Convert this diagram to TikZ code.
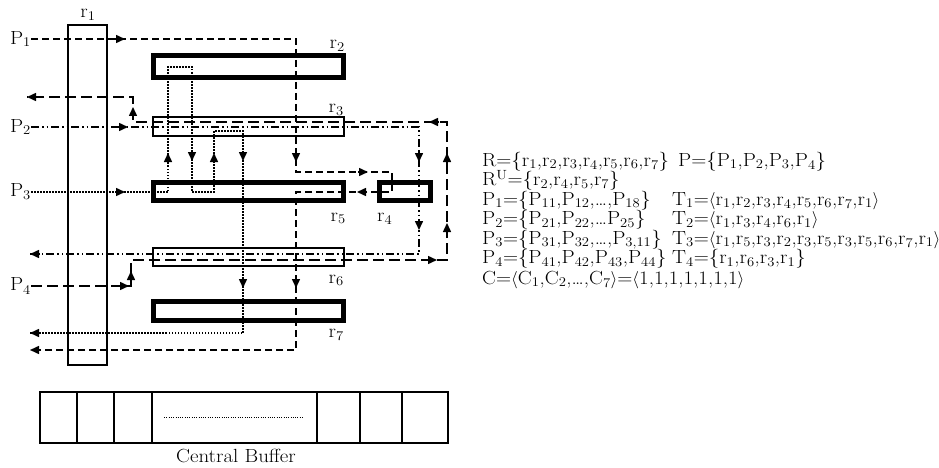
\documentclass[tikz,border=0pt]{standalone}
\usepackage{fontspec}
\setmainfont{Latin Modern Roman}[FakeStretch=1.1]
\usepackage{tikz}
\usetikzlibrary{arrows.meta}
\newcommand{\sbs}[1]{\textsubscript{#1}}
\newcommand{\lcol}[1]{\makebox[190pt][l]{#1}}

\begin{document}
\begin{tikzpicture}[x=1pt, y=-1pt,
  txt/.style={font=\fontsize{19}{20}\selectfont, inner sep=0pt},
  thickbox/.style={draw, line width=5pt, fill=white, inner sep=0pt},
  thinbox/.style={draw, line width=1.5pt, fill=white, inner sep=0pt},
  routeA/.style={line width=1.5pt, dash pattern=on 7pt off 4pt},
  routeB/.style={line width=1.5pt, dash pattern=on 8pt off 3pt on 1.5pt off 3pt on 1.5pt off 3pt},
  routeC/.style={line width=1.5pt, dash pattern=on 1.5pt off 1.5pt},
  routeD/.style={line width=1.5pt, dash pattern=on 11pt off 5pt},
  hd/.style={solid, line width=1.5pt, -{Triangle[length=9pt,width=8pt]}}]
  \useasboundingbox (0,0) rectangle (939,468);

  % resources
  \node[thinbox, minimum width=39pt, minimum height=340pt] (r1) at (87.5,195) {};
  \node[thickbox, minimum width=190pt, minimum height=22pt] (r2) at (248.5,66.5) {};
  \node[thinbox, minimum width=191pt, minimum height=19pt] (r3) at (248.5,126.5) {};
  \node[thickbox, minimum width=51pt, minimum height=18pt] (r4) at (405,191.5) {};
  \node[thickbox, minimum width=190pt, minimum height=18pt] (r5) at (248.5,191.5) {};
  \node[thinbox, minimum width=191pt, minimum height=18pt] (r6) at (248.5,257) {};
  \node[thickbox, minimum width=190pt, minimum height=19pt] (r7) at (248.5,311) {};

  \node[txt, anchor=base] (lr1) at (88,18) {r\sbs1};
  \node[txt, anchor=base east] (lr2) at (345,49) {r\sbs2};
  \node[txt, anchor=base east] (lr3) at (344,113) {r\sbs3};
  \node[txt, anchor=base west] (lr4) at (377,221) {r\sbs4};
  \node[txt, anchor=base east] (lr5) at (346,221) {r\sbs5};
  \node[txt, anchor=base east] (lr6) at (344,283) {r\sbs6};
  \node[txt, anchor=base east] (lr7) at (344,337) {r\sbs7};

  % products
  \node[txt, anchor=east] (P1) at (31,39) {P\sbs1};
  \node[txt, anchor=east] (P2) at (31,127) {P\sbs2};
  \node[txt, anchor=east] (P3) at (31,192) {P\sbs3};
  \node[txt, anchor=east] (P4) at (31,286) {P\sbs4};

  % routes
  \draw[routeA] (P1.east) -| (296,172) -- (392,172) -- (392,192) -- (296,192) -- (296,350) -- (30,350);
  \draw[routeB] (P2.east) -| (419,254) -- (30,254);
  \draw[routeC] (P3.east) -| (168,67) -| (192,192) -| (214,131) -| (243,333) -- (30,333);
  \draw[routeD] (P4.east) -| (131,260) -| (447,122) -| (133,97) -- (27,97);

  % arrow heads (0 right, 90 down, 180 left, 270 up)
  \foreach \x/\y/\a in {125/39/0, 296/162/90, 368/172/0, 357/192/180, 296/288/90, 30/350/180,
      128/127/0, 419/162/90, 419/230/90, 30/254/180,
      125/192/0, 168/153/270, 192/161/90, 214/153/270, 243/161/90, 243/288/90, 30/333/180,
      129/286/0, 131/271/270, 437/260/0, 447/223/270, 447/153/270, 429/122/180, 133/107/270, 27/97/180}
    \draw[hd] (\x,\y) ++(\a+180:10) -- ++(\a:10);

  % central buffer
  \node[thinbox, minimum width=408pt, minimum height=51pt] (buf) at (244,417.5) {};
  \foreach \x in {77,114,152,317,360,402} \draw[line width=1.5pt] (\x,392) -- (\x,443);
  \draw[line width=1pt, dash pattern=on 1pt off 1.3pt] (164,417) -- (303,417);
  \node[txt, anchor=base] (buflbl) at (236,462) {Central Buffer};

  % sets
  \node[txt, anchor=base west] (setR) at (482,166) {\lcol{R=\{r\sbs1,r\sbs2,r\sbs3,r\sbs4,r\sbs5,r\sbs6,r\sbs7\}}\hspace{6pt}P=\{P\sbs1,P\sbs2,P\sbs3,P\sbs4\}};
  \node[txt, anchor=base west] (setRU) at (482,185.5) {R\textsuperscript{U}=\{r\sbs2,r\sbs4,r\sbs5,r\sbs7\}};
  \node[txt, anchor=base west] (setT1) at (482,205) {\lcol{P\sbs1=\{P\sbs{11},P\sbs{12},\ldots,P\sbs{18}\}}T\sbs1=$\langle$r\sbs1,r\sbs2,r\sbs3,r\sbs4,r\sbs5,r\sbs6,r\sbs7,r\sbs1$\rangle$};
  \node[txt, anchor=base west] (setT2) at (482,224.5) {\lcol{P\sbs2=\{P\sbs{21},P\sbs{22},\ldots P\sbs{25}\}}T\sbs2=$\langle$r\sbs1,r\sbs3,r\sbs4,r\sbs6,r\sbs1$\rangle$};
  \node[txt, anchor=base west] (setT3) at (482,244) {\lcol{P\sbs3=\{P\sbs{31},P\sbs{32},\ldots,P\sbs{3,11}\}}T\sbs3=$\langle$r\sbs1,r\sbs5,r\sbs3,r\sbs2,r\sbs3,r\sbs5,r\sbs3,r\sbs5,r\sbs6,r\sbs7,r\sbs1$\rangle$};
  \node[txt, anchor=base west] (setT4) at (482,263.5) {\lcol{P\sbs4=\{P\sbs{41},P\sbs{42},P\sbs{43},P\sbs{44}\}}T\sbs4=\{r\sbs1,r\sbs6,r\sbs3,r\sbs1\}};
  \node[txt, anchor=base west] (setC) at (482,284) {C=$\langle$C\sbs1,C\sbs2,\ldots,C\sbs7$\rangle$=$\langle$1,1,1,1,1,1,1$\rangle$};
\end{tikzpicture}
\end{document}
